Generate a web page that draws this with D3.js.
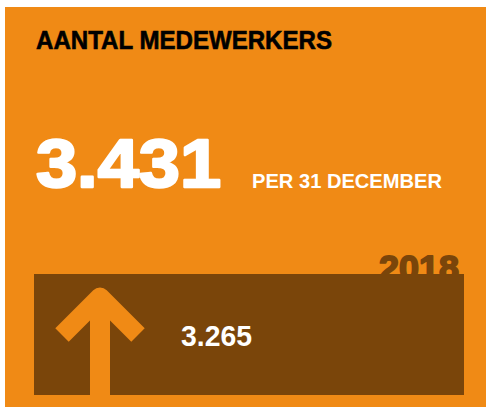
<!DOCTYPE html>
<html>
<head>
<meta charset="utf-8">
<script src="https://cdn.jsdelivr.net/npm/d3@7"></script>
<style>
  html, body { margin: 0; padding: 0; background: #ffffff; }
  svg { display: block; }
  text { font-family: "Liberation Sans", Arial, sans-serif; font-weight: bold; }
</style>
</head>
<body>
<div id="chart"></div>
<script>
const titleText = ["AANTAL MEDEWERKERS"];
const currentValue = [3431];
const currentLabel = ["PER 31 DECEMBER"];
const previousYear = ["2018"];
const previousValue = [3265];

const W = 486, H = 407;
const orange = "#f08a15";
const brown = "#7a450a";
const fmt = d3.formatLocale({decimal: ",", thousands: ".", grouping: [3], currency: ["€", ""]}).format(",d");

const svg = d3.select("#chart").append("svg").attr("width", W).attr("height", H);

svg.append("rect").attr("x", 5).attr("y", 7).attr("width", W - 5).attr("height", H - 7).attr("fill", orange);

svg.append("text").attr("x", 36).attr("y", 49)
  .attr("font-size", 25.5).attr("fill", "#000")
  .attr("stroke", "#000").attr("stroke-width", 0.6)
  .attr("textLength", 296).attr("lengthAdjust", "spacingAndGlyphs")
  .text(titleText[0]);

svg.append("text").attr("x", 36).attr("y", 187)
  .attr("font-size", 68).attr("fill", "#fff")
  .attr("stroke", "#fff").attr("stroke-width", 2.5).attr("stroke-linejoin", "round")
  .attr("textLength", 185).attr("lengthAdjust", "spacingAndGlyphs")
  .text(fmt(currentValue[0]));

svg.append("text").attr("x", 252).attr("y", 188)
  .attr("font-size", 19.5).attr("fill", "#fff")
  .attr("textLength", 190).attr("lengthAdjust", "spacingAndGlyphs")
  .text(currentLabel[0]);

svg.append("text").attr("x", 379).attr("y", 280)
  .attr("font-size", 35).attr("fill", brown)
  .attr("stroke", brown).attr("stroke-width", 1.8).attr("stroke-linejoin", "round")
  .attr("textLength", 80).attr("lengthAdjust", "spacingAndGlyphs")
  .text(previousYear[0]);

svg.append("rect").attr("x", 34).attr("y", 274).attr("width", 430).attr("height", 121).attr("fill", brown);

// arrow
svg.append("rect").attr("x", 90).attr("y", 300).attr("width", 20).attr("height", H - 300).attr("fill", orange);
svg.append("path")
  .attr("d", d3.line()([[62, 335], [100, 297], [138, 335]]))
  .attr("fill", "none").attr("stroke", orange).attr("stroke-width", 19)
  .attr("stroke-linejoin", "round").attr("stroke-linecap", "butt");

svg.append("text").attr("x", 181).attr("y", 346)
  .attr("font-size", 29).attr("fill", "#fff")
  .attr("textLength", 71).attr("lengthAdjust", "spacingAndGlyphs")
  .text(fmt(previousValue[0]));
</script>
</body>
</html>
